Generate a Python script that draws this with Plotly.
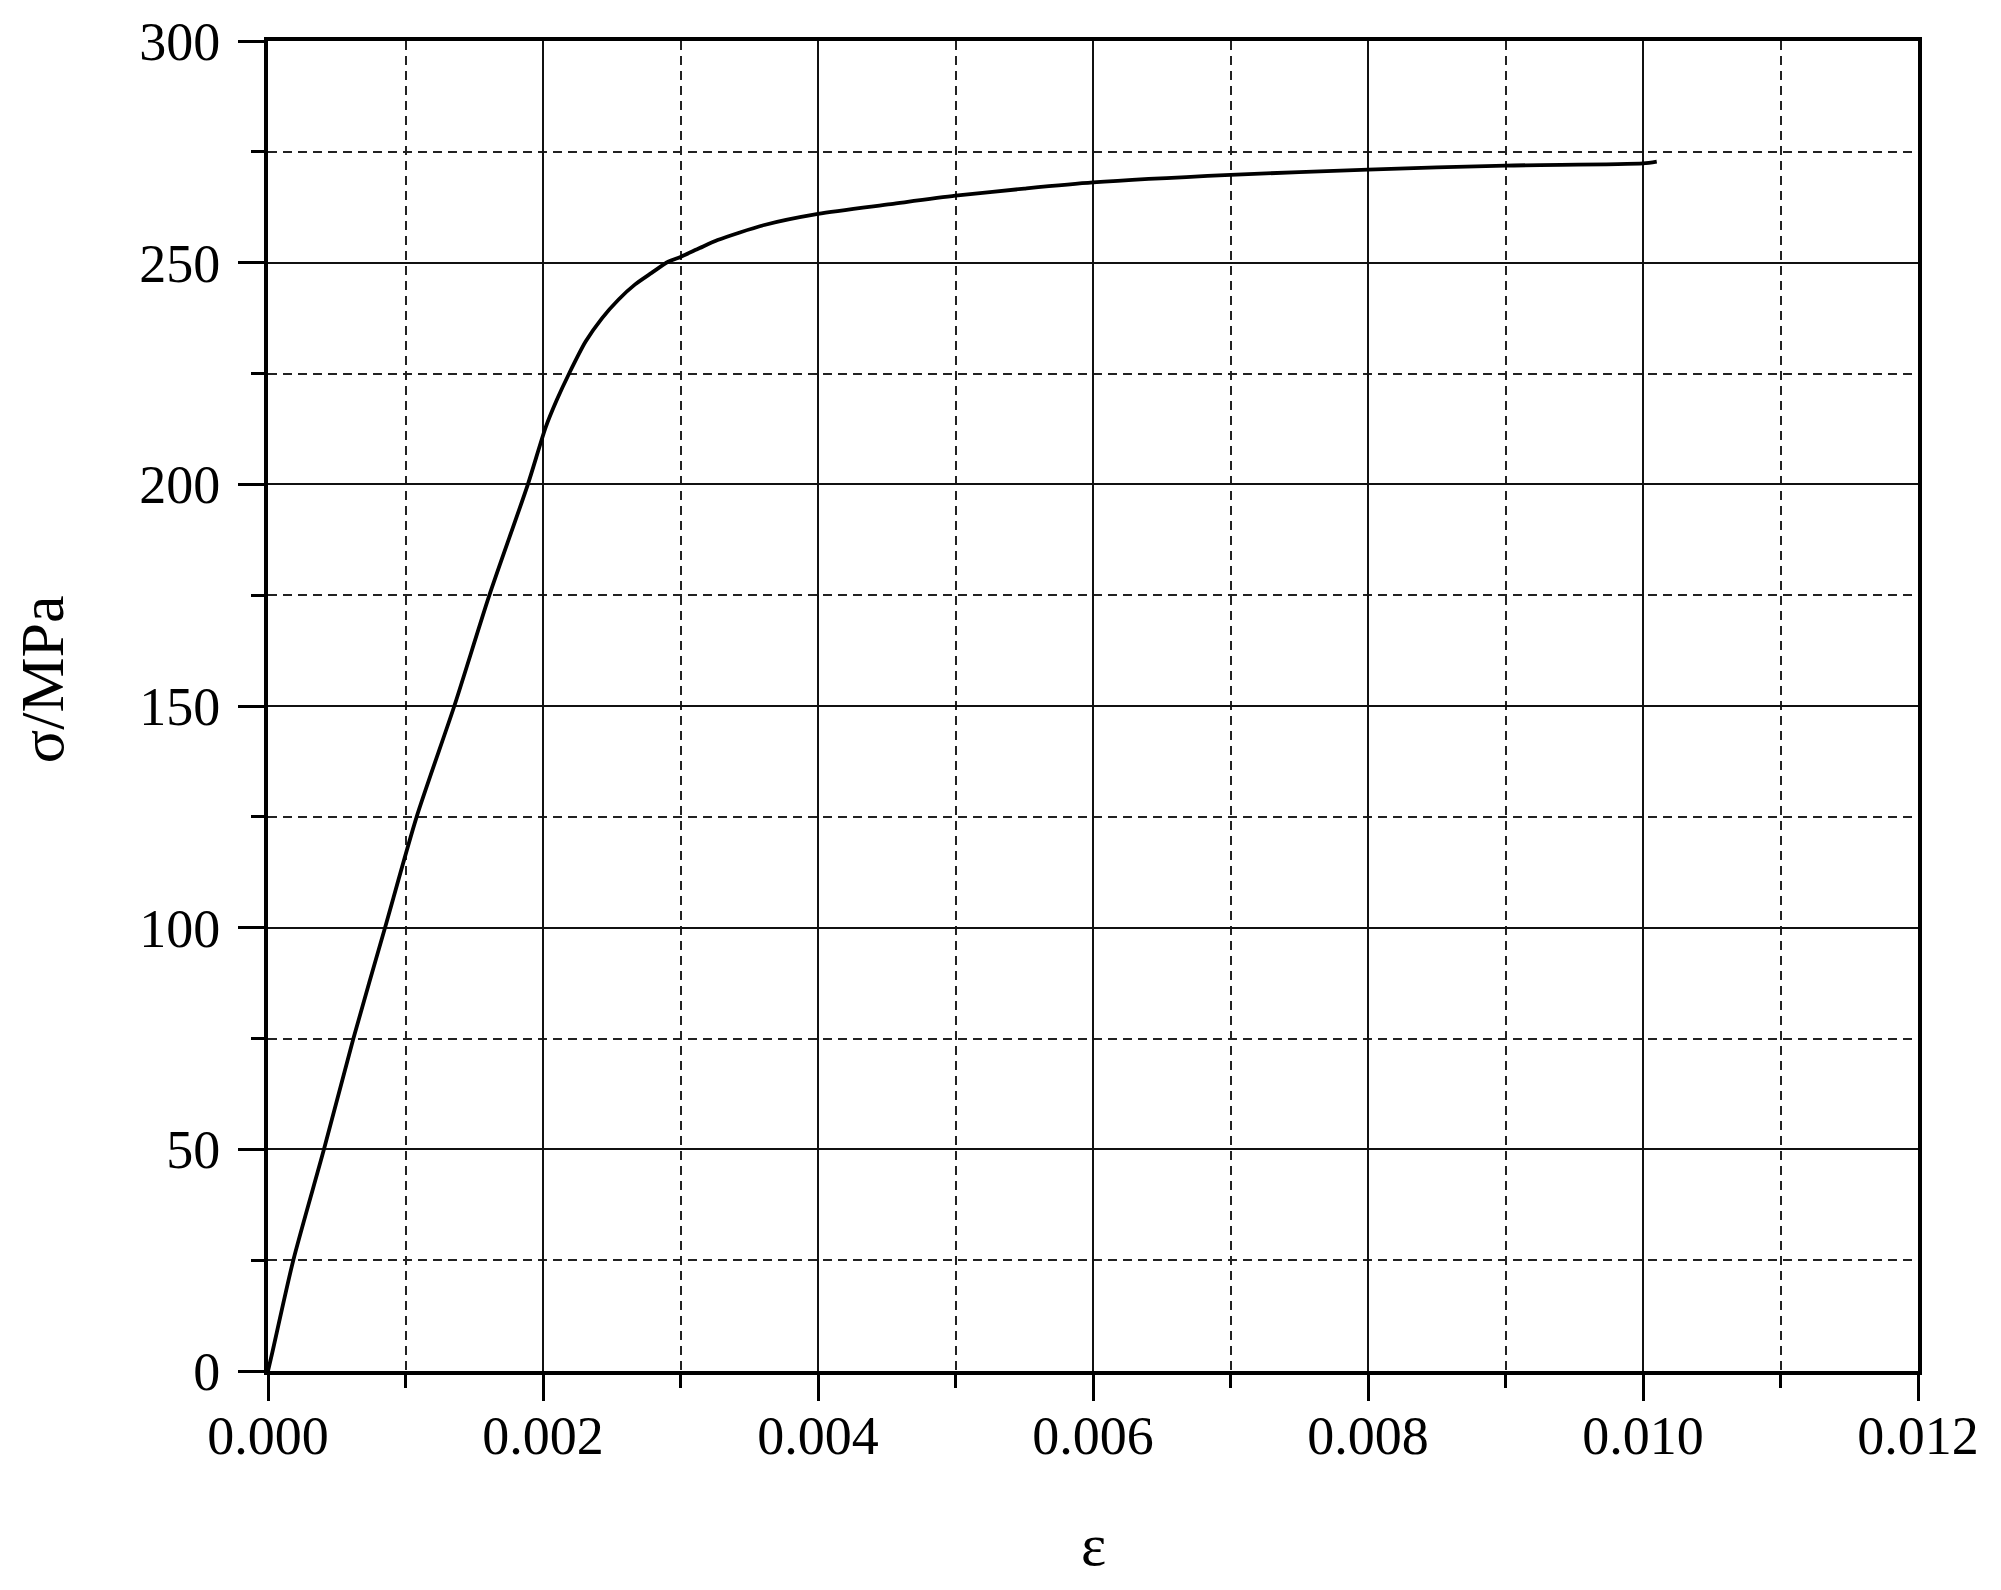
import plotly.graph_objects as go

# strain (ε) and stress (σ, MPa)
strain = [0, 0.00003, 0.000184, 0.000407, 0.000621, 0.000851, 0.001081, 0.001355,
          0.00161, 0.00189, 0.00202, 0.00210, 0.00219, 0.00231, 0.00243, 0.00255,
          0.00267, 0.00279, 0.00291, 0.0030, 0.00314, 0.00327, 0.00361, 0.0040,
          0.00453, 0.0050, 0.0055, 0.0060, 0.0070, 0.0080, 0.0090, 0.0100, 0.0101]
stress = [0, 4, 25, 50, 75, 100, 125, 150,
          175, 200, 212.9, 219.0, 225, 232.2, 237.5, 241.7,
          245.1, 247.7, 250.2, 251.3, 253.3, 255.1, 258.5, 261.0,
          263.2, 265.1, 266.7, 268.1, 269.8, 271.0, 271.9, 272.4, 272.8]

x_title = "ε"
y_title = "σ/MPa"

FONT = "Liberation Serif, Times New Roman, serif"

fig = go.Figure()
fig.add_trace(go.Scatter(x=strain, y=stress, mode="lines",
                         line=dict(color="black", width=3.8, shape="spline", smoothing=0.7),
                         showlegend=False, hoverinfo="skip"))

common = dict(
    showline=True, linewidth=4, linecolor="black", mirror=True,
    ticks="outside", ticklen=26, tickwidth=3, tickcolor="black",
    showgrid=True, gridcolor="#111111", gridwidth=2.4,
    zeroline=False,
    tickfont=dict(family=FONT, size=54, color="black"),
)

fig.update_xaxes(range=[0, 0.012], dtick=0.002, tick0=0, tickformat=".3f",
                 ticklabelstandoff=-12,
                 minor=dict(dtick=0.001, ticks="outside", ticklen=13, tickwidth=3,
                            tickcolor="black", showgrid=True, griddash="9px,6px",
                            gridcolor="#222222", gridwidth=2.2),
                 **common)
fig.update_yaxes(range=[0, 300], dtick=50, tick0=0,
                 ticklabelstandoff=7,
                 minor=dict(dtick=25, ticks="outside", ticklen=13, tickwidth=3,
                            tickcolor="black", showgrid=True, griddash="9px,6px",
                            gridcolor="#222222", gridwidth=2.2),
                 **common)

fig.add_annotation(text=x_title, xref="paper", yref="paper", x=0.5, y=-0.131,
                   xanchor="center", yanchor="middle", showarrow=False,
                   font=dict(family=FONT, size=60, color="black"))
fig.add_annotation(text=y_title, xref="paper", yref="paper", x=-0.1365, y=0.52,
                   xanchor="center", yanchor="middle", showarrow=False, textangle=-90,
                   font=dict(family=FONT, size=62, color="black"))

fig.update_layout(
    width=1993, height=1582,
    margin=dict(l=260, r=83, t=33, b=219, autoexpand=False),
    paper_bgcolor="white", plot_bgcolor="white",
    font=dict(family=FONT, color="black"),
)

fig.write_html("out.html")
